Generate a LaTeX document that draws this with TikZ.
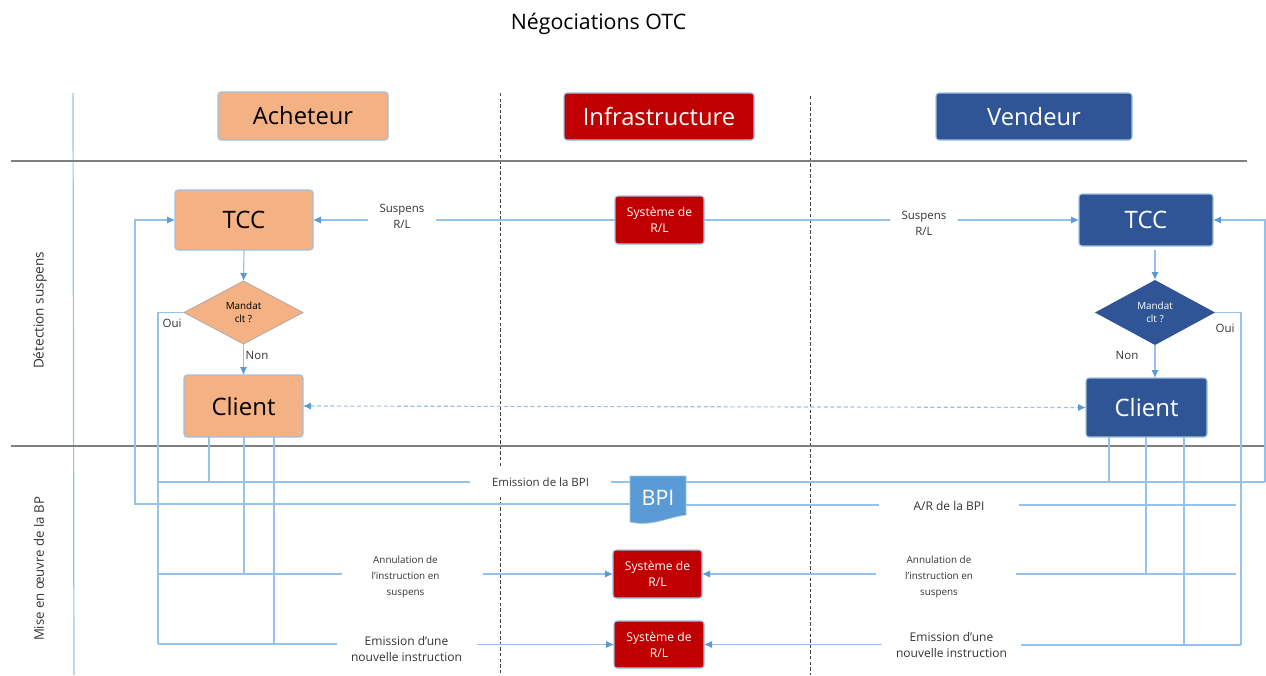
\documentclass[tikz,border=0pt]{standalone}
\usepackage{fontspec}
\setmainfont{Open Sans}
\usetikzlibrary{arrows.meta,shapes.geometric}
\def\px{0.75pt}
\definecolor{flowc}{HTML}{96C1E9}
\definecolor{tipc}{HTML}{5B9BD5}
\definecolor{orangec}{HTML}{F4B183}
\definecolor{redc}{HTML}{C00000}
\definecolor{bluec}{HTML}{2F5597}
\definecolor{edgec}{HTML}{9DC3E6}
\definecolor{rulec}{HTML}{7F7F7F}
\definecolor{labc}{HTML}{333333}
\tikzset{
  box/.style={draw=edgec,line width=0.8pt,rounded corners=2.2pt,inner sep=0pt,outer sep=0pt,align=center},
  orangebox/.style={box,fill=orangec,text=black},
  redbox/.style={box,fill=redc,text=white},
  bluebox/.style={box,fill=bluec,text=white},
  head/.style={font=\fontsize{17.8}{20}\selectfont},
  big/.style={font=\fontsize{18}{22}\selectfont},
  small/.style={font=\fontsize{9.1}{12}\selectfont},
  decision/.style={diamond,inner sep=0pt,outer sep=0pt,align=center,font=\fontsize{7.4}{10}\selectfont},
  lab/.style={inner sep=0pt,outer sep=0pt,align=center,text=labc,font=\fontsize{8.6}{12}\selectfont},
  flow/.style={draw=flowc,line width=0.85pt},
  arr/.style={flow,-{Latex[length=6pt,width=5.5pt,color=tipc]}},
  darr/.style={flow,dashed,dash pattern=on 3pt off 2pt,{Latex[length=6pt,width=5.5pt,color=tipc]}-{Latex[length=6pt,width=5.5pt,color=tipc]}},
  sep/.style={draw=rulec,line width=1pt},
  lane/.style={draw=black!75,line width=0.6pt,dash pattern=on 2.6pt off 1.6pt},
  axis/.style={draw=flowc,line width=0.9pt},
}
\begin{document}
\begin{tikzpicture}[x=0.75pt,y=-0.75pt]
\useasboundingbox (0,0) rectangle (1266,675);
% frame coordinates
\coordinate (axT) at (73,93); \coordinate (axB) at (74,675);
\coordinate (l1T) at (500,93); \coordinate (l1B) at (500,675);
\coordinate (l2T) at (810,96); \coordinate (l2B) at (810,675);
\coordinate (r1a) at (11,161); \coordinate (r1b) at (1247,161);
\coordinate (r2a) at (11,446); \coordinate (r2b) at (1265,446);
\draw[axis] (axT) -- (axB);
\draw[lane] (l1T) -- (l1B);
\draw[lane] (l2T) -- (l2B);
\draw[sep] (r1a) -- (r1b);
\draw[sep] (r2a) -- (r2b);
% title and lanes
\node[font=\fontsize{16}{18}\selectfont,inner sep=0pt] (title) at (598.5,24) {Négociations OTC};
\node[rotate=90,lab,font=\fontsize{10.2}{11}\selectfont] (laneA) at (40,310.5) {Détection suspens};
\node[rotate=90,lab,font=\fontsize{9.9}{11}\selectfont] (laneB) at (39,569) {Mise en œuvre de la BP};
% headers
\node[orangebox,head,minimum width=170*\px,minimum height=48*\px] (hA) at (303,116) {Acheteur};
\node[redbox,head,minimum width=190*\px,minimum height=47*\px] (hI) at (659,116.5) {Infrastructure};
\node[bluebox,head,minimum width=196*\px,minimum height=47*\px] (hV) at (1034,116.5) {Vendeur};
% main nodes
\node[orangebox,big,minimum width=138*\px,minimum height=60*\px] (tccL) at (244,220) {TCC};
\node[orangebox,big,minimum width=119*\px,minimum height=62*\px] (cliL) at (243.5,406) {Client};
\node[decision,fill=orangec,draw=black!35,line width=0.5pt,minimum width=119*\px,minimum height=63*\px] (dL) at (243.5,312.5) {Mandat\\clt ?};
\node[bluebox,big,minimum width=134*\px,minimum height=52*\px] (tccR) at (1146,220) {TCC};
\node[bluebox,big,minimum width=121*\px,minimum height=59*\px] (cliR) at (1146.5,407.5) {Client};
\node[decision,fill=bluec,text=white,minimum width=120*\px,minimum height=65*\px] (dR) at (1155,312.5) {Mandat\\clt ?};
\node[redbox,small,minimum width=89*\px,minimum height=48*\px] (sys1) at (659.5,220) {Système de\\R/L};
\node[redbox,small,minimum width=89*\px,minimum height=48*\px] (sys2) at (657.5,574) {Système de\\R/L};
\node[redbox,small,minimum width=90*\px,minimum height=47*\px] (sys3) at (659,644.5) {Système de\\R/L};
% connector labels
\node[lab,minimum width=68*\px] (susL) at (402,216) {Suspens\\R/L};
\node[lab,minimum width=68*\px] (susR) at (924,223) {Suspens\\R/L};
\node[lab,fill=white,minimum width=141*\px,minimum height=30*\px] (emiB) at (540.5,482) {Emission de la BPI};
\node[lab,minimum width=140*\px,font=\fontsize{9}{12}\selectfont] (ackB) at (949,506) {A/R de la BPI};
\node[lab,minimum width=127*\px,font=\fontsize{7.4}{12}\selectfont] (annL) at (405.5,577) {Annulation de\\l’instruction en\\suspens};
\node[lab,minimum width=126*\px,font=\fontsize{7.4}{12}\selectfont] (annR) at (939,577) {Annulation de\\l’instruction en\\suspens};
\node[lab,minimum width=140*\px,font=\fontsize{9}{12.2}\selectfont] (newL) at (406.5,649) {Emission d’une\\nouvelle instruction};
\node[lab,minimum width=139*\px,font=\fontsize{9}{12.2}\selectfont] (newR) at (951.5,645) {Emission d’une\\nouvelle instruction};
\node[lab] (ouiL) at (172,323) {Oui};
\node[lab] (nonL) at (257,355) {Non};
\node[lab] (ouiR) at (1225,328) {Oui};
\node[lab] (nonR) at (1127,355) {Non};
% routing coordinates
\coordinate (x135) at (135,504);
\coordinate (x158) at (158,644);
\coordinate (j158a) at (158,482);
\coordinate (j158b) at (158,574);
\coordinate (j209) at (209,482);
\coordinate (j244) at (244,574);
\coordinate (j274) at (274,644);
\coordinate (j1109) at (1109,482);
\coordinate (j1146) at (1146,574);
\coordinate (j1184) at (1184,645);
\coordinate (x1241) at (1241,645);
\coordinate (x1265) at (1265,482);
\coordinate (endA) at (1236,505);
\coordinate (endB) at (1236,574);
\coordinate (tccRout) at (1155,250);
\coordinate (annLo) at (483,574);
\coordinate (annRo) at (1016,574);
% top connectors
\draw[flow] (sys1.west) -- (susL.east |- sys1.west);
\draw[arr] (susL.west |- tccL.east) -- (tccL.east);
\draw[flow] (sys1.east) -- (susR.west |- sys1.east);
\draw[arr] (susR.east |- tccR.west) -- (tccR.west);
% decisions
\draw[arr] (tccL.south) -- (dL.north);
\draw[arr] (dL.south) -- (cliL.north);
\draw[arr] (tccRout) -- (dR.north);
\draw[arr] (dR.south) -- (dR.south |- cliR.north);
\draw[darr] (cliL.east) -- (cliR.west);
% Oui branches
\draw[flow] (dL.west) -| (x158);
\draw[flow] (dR.east) -| (x1241);
% client drops
\draw[flow] (cliL.south -| j209) -- (j209);
\draw[flow] (cliL.south -| j244) -- (j244);
\draw[flow] (cliL.south -| j274) -- (j274);
\draw[flow] (cliR.south -| j1109) -- (j1109);
\draw[flow] (cliR.south -| j1146) -- (j1146);
\draw[flow] (cliR.south -| j1184) -- (j1184);
% document shape
\path[fill=tipc,draw=edgec,line width=0.5pt] (630,476) -- (686,476) -- (686,515) .. controls (668,517) and (652,527) .. (630,522) -- cycle;
\node[inner sep=0pt,outer sep=0pt,minimum width=56*\px,minimum height=47*\px,text=white,font=\fontsize{16}{18}\selectfont] (bpi) at (658,499.5) {\raisebox{2pt}{BPI}};
% BPI flows
\draw[flow] (j158a) -- (emiB.west);
\draw[flow] (emiB.east) -- (bpi.west |- emiB.east);
\draw[flow] (bpi.east |- x1265) -- (x1265);
\draw[arr] (x1265) |- (tccR.east);
\draw[arr] (bpi.west |- x135) -- (x135) |- (tccL.west);
\draw[flow] (bpi.east |- endA) -- (ackB.west |- endA);
\draw[flow] (ackB.east |- endA) -- (endA);
% system flows
\draw[flow] (j158b) -- (annL.west |- j158b);
\draw[arr] (annLo) -- (sys2.west);
\draw[flow] (x158) -- (newL.west |- x158);
\draw[arr] (newL.east |- sys3.west) -- (sys3.west);
\draw[arr] (annR.west |- sys2.east) -- (sys2.east);
\draw[flow] (annRo) -- (endB);
\draw[arr] (newR.west |- sys3.east) -- (sys3.east);
\draw[flow] (newR.east |- x1241) -- (x1241);
\end{tikzpicture}
\end{document}
